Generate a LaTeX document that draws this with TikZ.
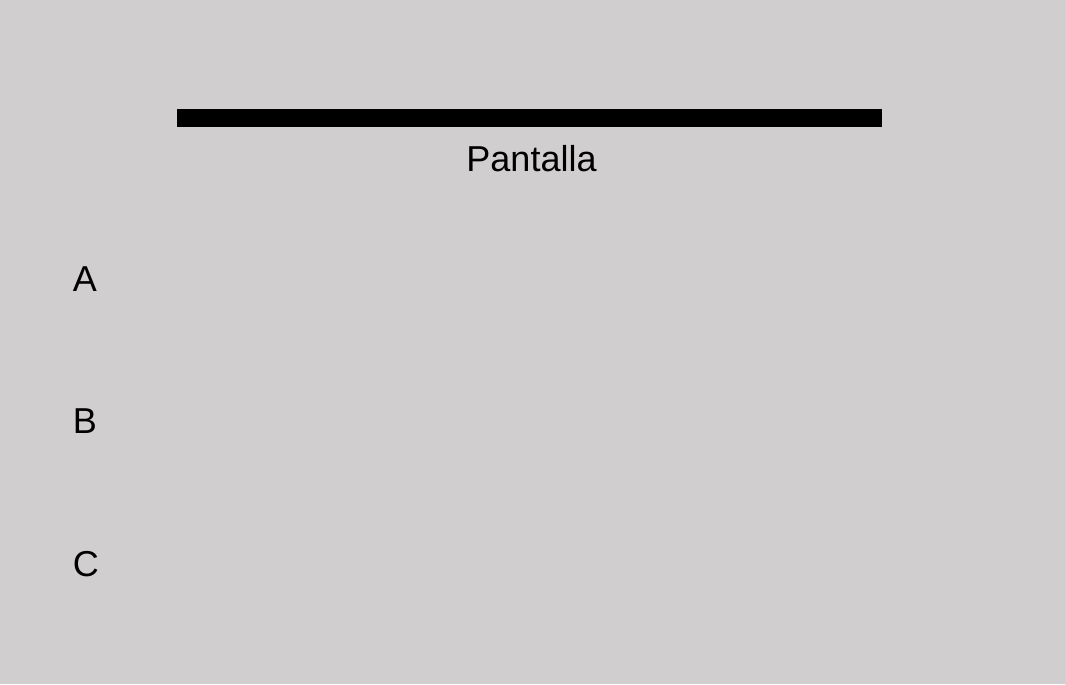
\documentclass[tikz,border=0pt]{standalone}
\usepackage{fontspec}
\setmainfont{Liberation Sans}
\definecolor{bggray}{RGB}{208,206,207}
\tikzset{
  lbl/.style={anchor=base, inner sep=0pt, font=\fontsize{20.5}{24}\selectfont}
}
\begin{document}
\begin{tikzpicture}[x=0.02cm, y=-0.02cm]
  % Background
  \fill[bggray] (0,0) rectangle (1065,684);
  \useasboundingbox (0,0) rectangle (1065,684);

  % Screen
  \fill[black] (177,109) rectangle (882,127);
  \node[lbl] (screen) at (531.5,171) {Pantalla};

  % Positions
  \node[lbl] (A) at (85,291) {A};
  \node[lbl] (B) at (85,433) {B};
  \node[lbl] (C) at (86,576) {C};
\end{tikzpicture}
\end{document}
